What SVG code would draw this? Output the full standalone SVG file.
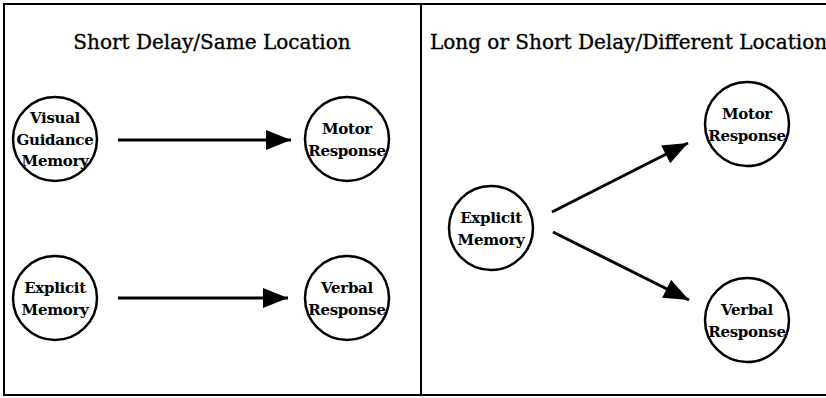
<svg xmlns="http://www.w3.org/2000/svg" width="826" height="398" viewBox="0 0 826 398">
  <style>
    .frame { fill: none; stroke: #000; stroke-width: 2; }
    .node circle { fill: #fff; stroke: #000; stroke-width: 2.5; }
    .node text { font-family: "DejaVu Serif", "Liberation Serif", serif; font-size: 15px; font-weight: bold; text-anchor: middle; fill: #000; letter-spacing: -0.3px; }
    .title { font-family: "DejaVu Serif", "Liberation Serif", serif; font-size: 20px; fill: #000; stroke: #000; stroke-width: 0.35; }
    .edge { stroke: #000; stroke-width: 3; fill: none; marker-end: url(#head); }
  </style>
  <defs>
    <marker id="head" viewBox="0 0 10 8" refX="10" refY="4" markerUnits="userSpaceOnUse" markerWidth="26" markerHeight="20" orient="auto">
      <path d="M0,0 L10,4 L0,8 Z" fill="#000"/>
    </marker>
  </defs>
  <rect width="826" height="398" fill="#fff"/>

  <!-- panel frames -->
  <path class="frame" d="M828,4 H4 V395 H828 M421,4 V395"/>

  <text class="title" x="212" y="49" text-anchor="middle">Short Delay/Same Location</text>
  <text class="title" x="430" y="49">Long or Short Delay/Different Location</text>

  <g id="connectors">
    <line class="edge" x1="118" y1="140" x2="291" y2="140"/>
    <line class="edge" x1="118" y1="298" x2="288" y2="298"/>
    <line class="edge" x1="552" y1="212" x2="688" y2="143"/>
    <line class="edge" x1="553" y1="232" x2="689" y2="300"/>
  </g>

  <g id="visual-guidance-memory" class="node">
    <circle cx="55" cy="139" r="42"/>
    <text x="55" y="123">Visual</text>
    <text x="55" y="145">Guidance</text>
    <text x="55" y="166">Memory</text>
  </g>
  <g id="motor-response-left" class="node">
    <circle cx="347" cy="139" r="42"/>
    <text x="347" y="134">Motor</text>
    <text x="347" y="156">Response</text>
  </g>
  <g id="explicit-memory-left" class="node">
    <circle cx="55" cy="298" r="42"/>
    <text x="55" y="293">Explicit</text>
    <text x="55" y="315">Memory</text>
  </g>
  <g id="verbal-response-left" class="node">
    <circle cx="347" cy="298" r="42"/>
    <text x="347" y="293">Verbal</text>
    <text x="347" y="315">Response</text>
  </g>
  <g id="explicit-memory-right" class="node">
    <circle cx="491" cy="228" r="42"/>
    <text x="491" y="223">Explicit</text>
    <text x="491" y="245">Memory</text>
  </g>
  <g id="motor-response-right" class="node">
    <circle cx="747" cy="124" r="42"/>
    <text x="747" y="119">Motor</text>
    <text x="747" y="141">Response</text>
  </g>
  <g id="verbal-response-right" class="node">
    <circle cx="747" cy="320" r="42"/>
    <text x="747" y="315">Verbal</text>
    <text x="747" y="337">Response</text>
  </g>
</svg>
